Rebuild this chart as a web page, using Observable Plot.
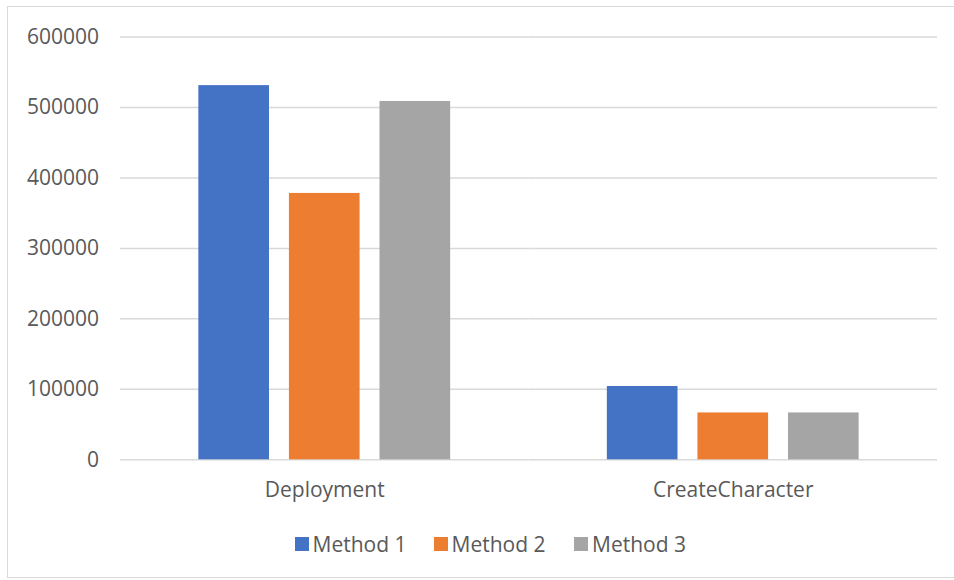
<!DOCTYPE html>
<html>
<head>
<meta charset="utf-8">
<script src="https://cdn.jsdelivr.net/npm/d3@7"></script>
<script src="https://cdn.jsdelivr.net/npm/@observablehq/plot@0.6"></script>
<style>
  html, body { margin: 0; padding: 0; background: #fff; }
  body { width: 954px; height: 580px; position: relative; overflow: hidden; font-family: "Open Sans", sans-serif; }
  #frame { position: absolute; left: 7px; top: 6px; width: 960px; height: 572px; border: 1px solid #d9d9d9; box-sizing: border-box; }
  #chart { position: absolute; left: 0; top: 0; }
  #legend { position: absolute; left: 0; top: 530px; width: 954px; color: #595959; font-size: 21px; }
  .item { position: absolute; display: flex; align-items: center; white-space: nowrap; }
  .sw { width: 14px; height: 14px; margin-right: 4px; display: inline-block; }
</style>
</head>
<body>
<div id="frame"></div>
<div id="chart"></div>
<div id="legend"></div>
<script>
const groups = ["Deployment", "CreateCharacter"];
const methods = ["Method 1", "Method 2", "Method 3"];
const method1 = [531000, 104000];
const method2 = [378000, 66500];
const method3 = [508500, 66500];
const colors = ["#4472C4", "#ED7D31", "#A5A5A5"];
const yTicks = [0, 100000, 200000, 300000, 400000, 500000, 600000];

const series = [method1, method2, method3];
const rows = [];
groups.forEach((g, gi) => methods.forEach((m, mi) => rows.push({group: g, method: m, value: series[mi][gi]})));

const chart = Plot.plot({
  width: 954,
  height: 520,
  marginLeft: 120,
  marginRight: 17,
  marginTop: 36.5,
  marginBottom: 60.7,
  style: {fontFamily: "'Open Sans', sans-serif", fontSize: "21px", color: "#595959", background: "transparent", overflow: "visible"},
  facet: {data: rows, x: "group"},
  fx: {domain: groups, padding: 0, round: false, axis: "bottom", tickSize: 0, tickPadding: 22, label: null},
  x: {domain: methods, paddingInner: 0.22, paddingOuter: 0.865, round: false, axis: null},
  y: {domain: [0, 600000], ticks: yTicks, tickSize: 0, tickPadding: 21.5, tickFormat: d => String(d), label: null},
  color: {domain: methods, range: colors},
  marks: [
    Plot.ruleY(yTicks, {stroke: "#d9d9d9", strokeWidth: 1.5}),
    Plot.barY(rows, {x: "method", y: "value", fill: "method"})
  ]
});
document.getElementById("chart").appendChild(chart);

const legend = document.getElementById("legend");
const lefts = [294.5, 433.5, 574];
methods.forEach((m, i) => {
  const it = document.createElement("div");
  it.className = "item";
  it.style.left = lefts[i] + "px";
  const sw = document.createElement("span");
  sw.className = "sw";
  sw.style.background = colors[i];
  const t = document.createElement("span");
  t.textContent = m;
  it.appendChild(sw);
  it.appendChild(t);
  legend.appendChild(it);
});
</script>
</body>
</html>
